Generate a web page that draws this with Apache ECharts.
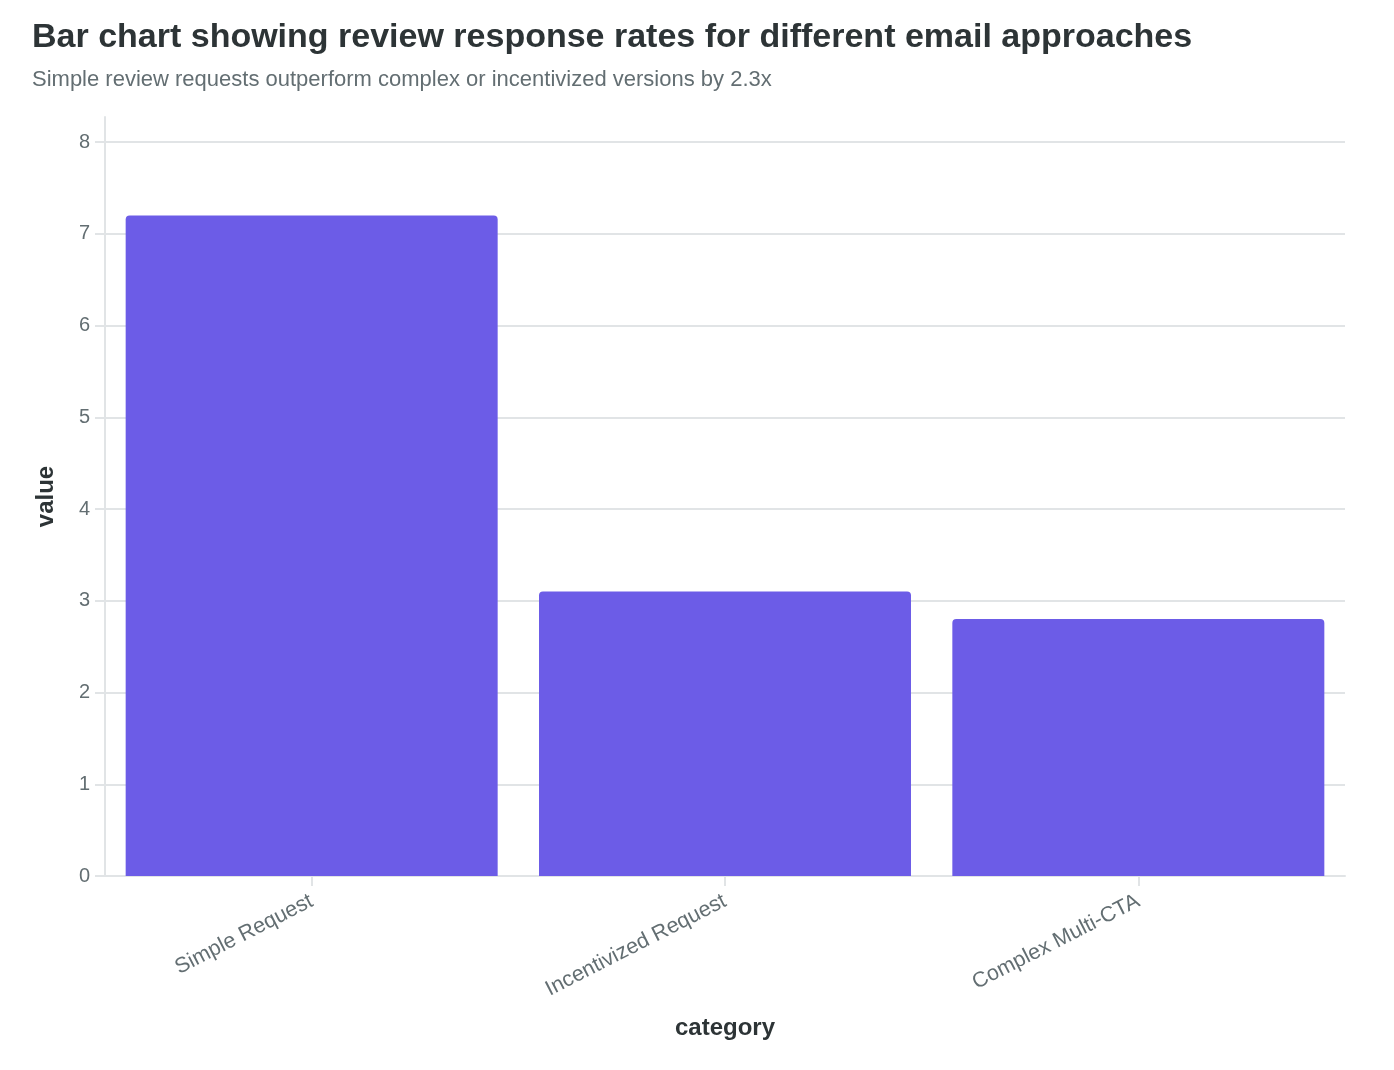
<!DOCTYPE html>
<html>
<head>
<meta charset="utf-8">
<script src="https://cdn.jsdelivr.net/npm/echarts@6/dist/echarts.min.js"></script>
<style>
  html, body { margin: 0; padding: 0; background: #fff; }
  #main { width: 1394px; height: 1070px; }
</style>
</head>
<body>
<div id="main"></div>
<script>
var categories = ['Simple Request', 'Incentivized Request', 'Complex Multi-CTA'];
var responseRates = [7.2, 3.1, 2.8];
var yTicks = [0, 1, 2, 3, 4, 5, 6, 7, 8];

var font = '"Liberation Sans", Arial, Helvetica, sans-serif';
var gridColor = '#e1e4e6';

var myChart = echarts.init(document.getElementById('main'));

var option = {
    backgroundColor: '#ffffff',
    textStyle: { fontFamily: font },
    title: {
        text: 'Bar chart showing review response rates for different email approaches',
        subtext: 'Simple review requests outperform complex or incentivized versions by 2.3x',
        left: 32,
        top: 21,
        padding: 0,
        itemGap: 14,
        textStyle: { fontFamily: font, fontSize: 34, fontWeight: 'bold', color: '#2d3436' },
        subtextStyle: { fontFamily: font, fontSize: 22, color: '#636e72' }
    },
    grid: [
        { left: 105, right: 49, top: 142, bottom: 194 },
        { left: 105, right: 49, top: 117, bottom: 194 }
    ],
    xAxis: [{
        type: 'category',
        gridIndex: 0,
        data: categories,
        name: 'category',
        nameLocation: 'middle',
        nameGap: 140,
        nameTextStyle: { fontFamily: font, fontSize: 24, fontWeight: 'bold', color: '#2d3436' },
        axisLine: { show: true, lineStyle: { color: gridColor, width: 2 } },
        axisTick: { show: true, alignWithLabel: true, length: 10, lineStyle: { color: gridColor, width: 2 } },
        axisLabel: { rotate: 27, margin: 24, fontSize: 21.5, color: '#636e72', fontFamily: font },
        splitLine: { show: false }
    }, {
        type: 'category',
        gridIndex: 1,
        data: categories,
        show: false
    }],
    yAxis: [{
        type: 'value',
        gridIndex: 0,
        min: yTicks[0],
        max: yTicks[yTicks.length - 1],
        interval: 1,
        axisLine: { show: false },
        axisTick: { show: true, length: 10, lineStyle: { color: gridColor, width: 2 } },
        axisLabel: { margin: 15, fontSize: 20, color: '#636e72', fontFamily: font },
        splitLine: { show: true, lineStyle: { color: gridColor, width: 2 } }
    }, {
        type: 'value',
        gridIndex: 1,
        min: 0,
        max: 1,
        name: 'value',
        nameLocation: 'middle',
        nameGap: 47,
        nameTextStyle: { fontFamily: font, fontSize: 24, fontWeight: 'bold', color: '#2d3436' },
        axisLine: { show: true, lineStyle: { color: gridColor, width: 2 } },
        axisTick: { show: false },
        axisLabel: { show: false },
        splitLine: { show: false }
    }],
    series: [{
        type: 'bar',
        xAxisIndex: 0,
        yAxisIndex: 0,
        data: responseRates,
        barCategoryGap: '10%',
        itemStyle: { color: '#6c5ce7', borderRadius: [4, 4, 0, 0] }
    }]
};

myChart.setOption(option);
</script>
</body>
</html>
